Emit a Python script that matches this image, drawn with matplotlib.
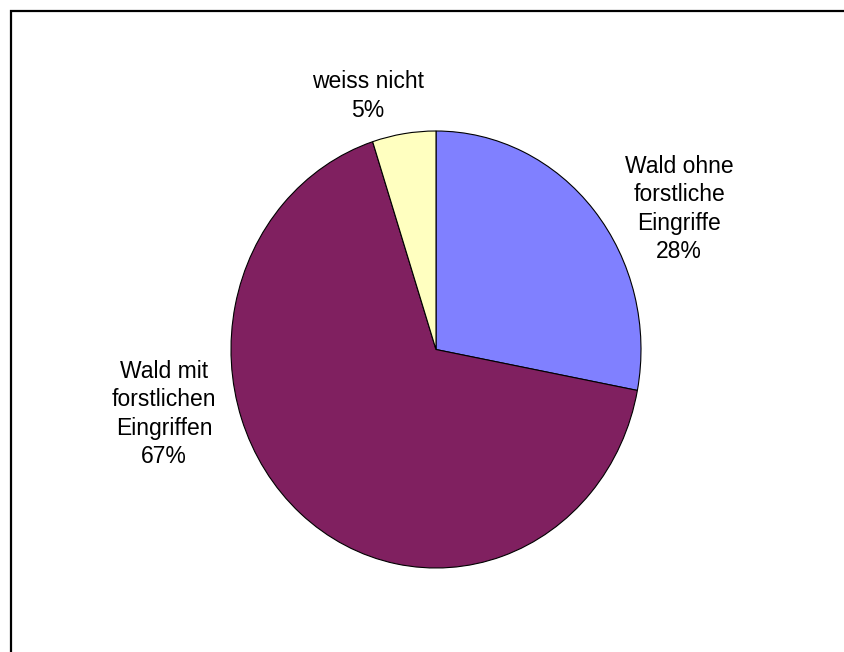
import matplotlib
matplotlib.use("Agg")
import matplotlib.pyplot as plt
from matplotlib.lines import Line2D

categories = ["Wald ohne\nforstliche\nEingriffe", "Wald mit\nforstlichen\nEingriffen", "weiss nicht"]
values = [28, 67, 5]
colors = ["#8080FF", "#802060", "#FFFFC0"]

W, H = 844, 652
fig = plt.figure(figsize=(W / 100, H / 100), dpi=100)
fig.patch.set_facecolor("white")

# outer frame (only top and left edges visible in the reference)
fx, fy = 11 / W, 1 - 11 / H
fig.lines.append(Line2D([fx, fx, 1.01], [-0.01, fy, fy], transform=fig.transFigure,
                        color="black", linewidth=1.6, solid_joinstyle="miter"))

cx, cy, rx, ry = 436, 349.5, 205, 218.5
ax = fig.add_axes([(cx - rx) / W, (H - cy - ry) / H, 2 * rx / W, 2 * ry / H])
ax.pie(values, colors=colors, startangle=90, counterclock=False, radius=1,
       wedgeprops=dict(edgecolor="black", linewidth=0.8))
ax.set_aspect("auto")
ax.set_xlim(-1, 1)
ax.set_ylim(-1, 1)
ax.axis("off")

label_pos = [(679, 209), (164, 414), (368, 96)]
for cat, v, (px, py) in zip(categories, values, label_pos):
    fig.text(px / W, 1 - py / H, f"{cat}\n{v}%", ha="center", va="center",
             fontsize=16.5, family="Liberation Sans", linespacing=1.28)

fig.savefig("out.png", dpi=100, facecolor="white")
